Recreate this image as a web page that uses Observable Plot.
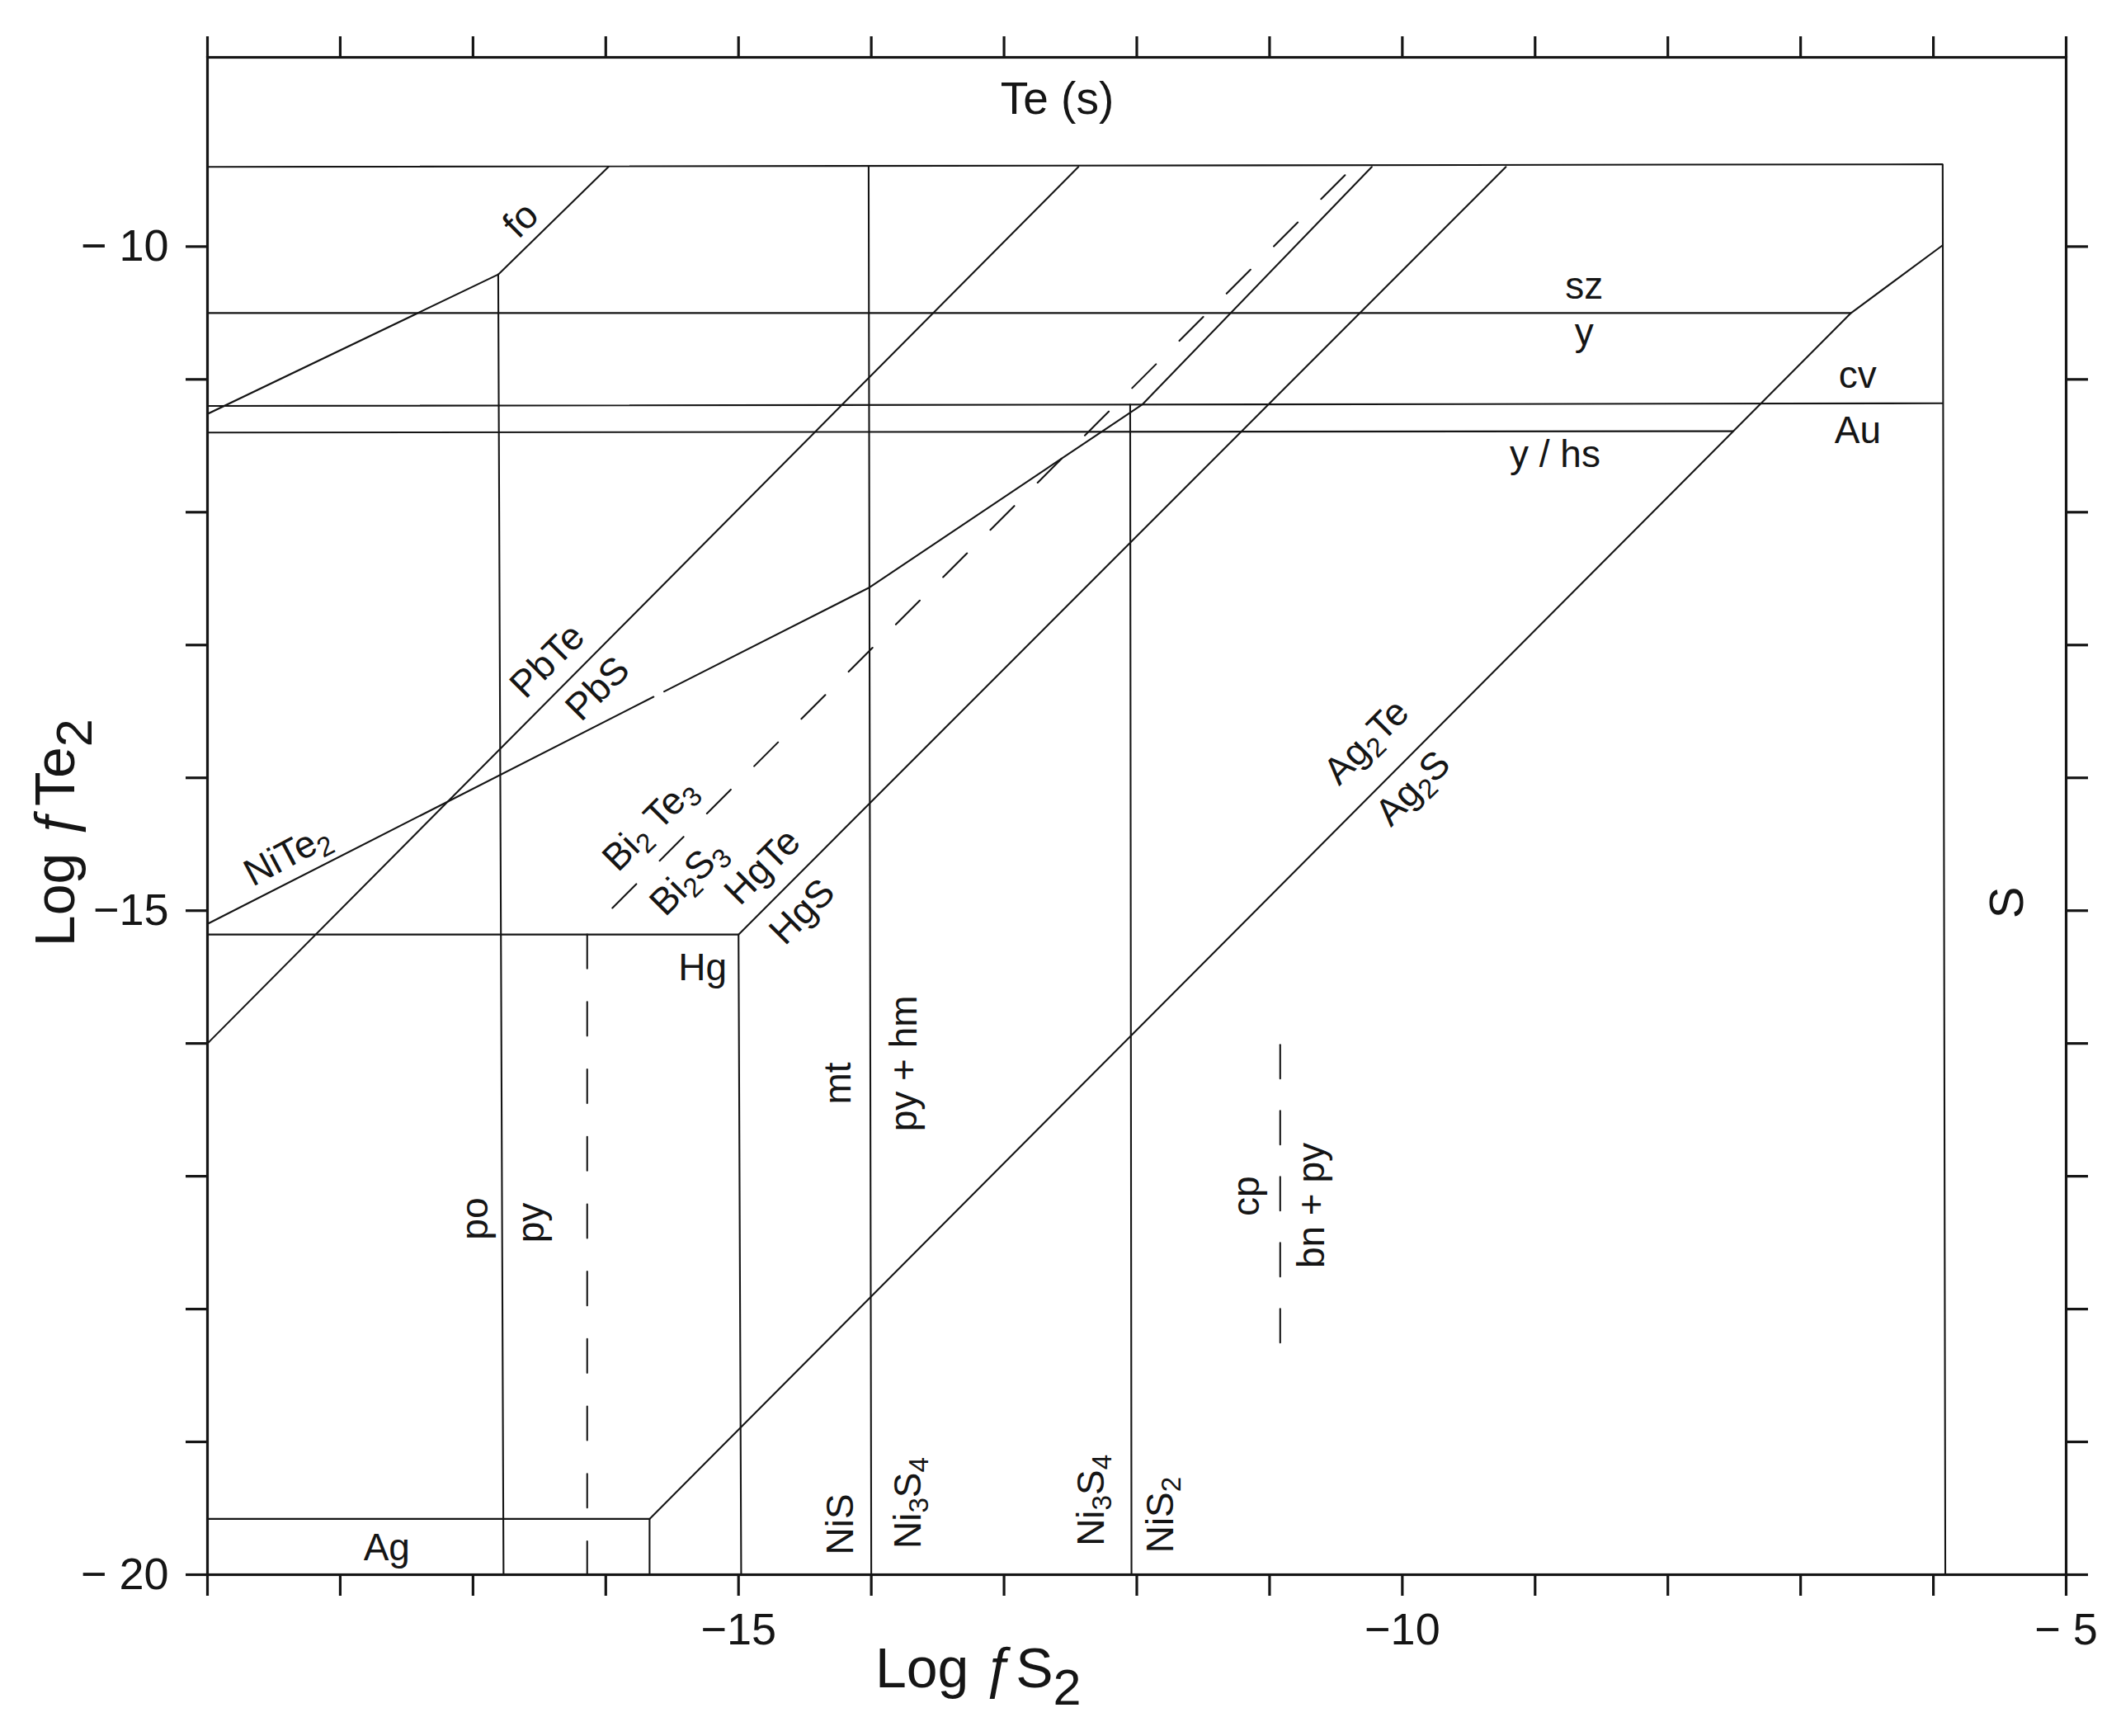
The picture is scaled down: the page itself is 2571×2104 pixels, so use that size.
<!DOCTYPE html>
<html>
<head>
<meta charset="utf-8">
<script src="https://cdn.jsdelivr.net/npm/d3@7"></script>
<script src="https://cdn.jsdelivr.net/npm/@observablehq/plot@0.6"></script>
<style>
  html, body { margin: 0; padding: 0; background: #fff; overflow: hidden; }
  svg { display: block; }
</style>
</head>
<body>
<div id="chart"></div>
<script>
// ---------- axis ticks ----------
const xTicks = [-19, -18, -17, -16, -15, -14, -13, -12, -11, -10, -9, -8, -7, -6, -5];
const xLabeledTicks = [-15, -10, -5];
const xTickText = ["\u221215", "\u221210", "\u2212 5"];
const yTicks = [-20, -19, -18, -17, -16, -15, -14, -13, -12, -11, -10];
const yLabeledTicks = [-20, -15, -10];
const yTickText = ["\u2212 20", "\u221215", "\u2212 10"];

// ---------- phase boundaries (log fS2, log fTe2) ----------
const teSBoundary    = [[-19, -9.40], [-5.93, -9.38], [-5.91, -20]];
const foBoundary     = [[-19, -11.26], [-16.81, -10.21], [-15.98, -9.40]];
const poPyBoundary   = [[-16.81, -10.21], [-16.77, -20]];
const szYBoundary    = [[-19, -10.50], [-6.62, -10.50]];
const cvAuBoundary   = [[-19, -11.20], [-5.93, -11.18]];
const yHsBoundary    = [[-19, -11.40], [-7.51, -11.39]];
const ag2Boundary    = [[-15.67, -19.58], [-6.62, -10.50], [-5.93, -9.99]];
const agBoundary     = [[-19, -19.58], [-15.67, -19.58], [-15.67, -20]];
const mtBoundary     = [[-14.02, -9.40], [-14.0, -20]];
const ni3s4Boundary  = [[-12.05, -11.19], [-12.04, -20]];
const pbBoundary     = [[-19, -16.0], [-12.44, -9.40]];
const niTe2BoundaryA = [[-19, -15.10], [-15.64, -13.39]];
const niTe2BoundaryB = [[-15.56, -13.35], [-14.02, -12.57], [-11.96, -11.19], [-10.23, -9.40]];
const hgBoundary     = [[-19, -15.18], [-15.0, -15.18], [-14.98, -20]];
const hgsBoundary    = [[-15.0, -15.18], [-9.22, -9.40]];
// dashed boundaries
const biBoundary     = [[-15.95, -14.98], [-10.38, -9.41]];
const dashedPyLine   = [[-16.14, -15.18], [-16.14, -20]];
const cpBnBoundary   = [[-10.92, -16.01], [-10.92, -18.26]];

// ---------- field labels (data coordinates) ----------
const titleLabels = [{t: "Te (s)", x: -12.60, y: -8.89}];
const horizontalLabels = [
  {t: "sz", x: -8.63, y: -10.30},
  {t: "y", x: -8.63, y: -10.65},
  {t: "cv", x: -6.57, y: -10.97},
  {t: "Au", x: -6.57, y: -11.39},
  {t: "y / hs", x: -8.85, y: -11.57},
  {t: "Hg", x: -15.27, y: -15.43},
  {t: "Ag", x: -17.65, y: -19.80}
];
const diagonalLabels = [
  {t: "fo", x: -16.64, y: -9.80},
  {t: "PbTe", x: -16.44, y: -13.12},
  {t: "PbS", x: -16.06, y: -13.33},
  {t: "Bi_2 Te_3", x: -15.67, y: -14.35},
  {t: "Bi_2S_3", x: -15.38, y: -14.75},
  {t: "HgTe", x: -14.82, y: -14.67},
  {t: "HgS", x: -14.52, y: -15.01},
  {t: "Ag_2Te", x: -10.27, y: -13.73},
  {t: "Ag_2S", x: -9.92, y: -14.08}
];
const niTe2Labels = [{t: "NiTe_2", x: -18.40, y: -14.58}];
const verticalLabels = [
  {t: "mt", x: -14.25, y: -16.30},
  {t: "py + hm", x: -13.75, y: -16.15},
  {t: "po", x: -16.98, y: -17.32},
  {t: "py", x: -16.56, y: -17.35},
  {t: "NiS", x: -14.23, y: -19.62},
  {t: "Ni_3S_4", x: -13.72, y: -19.46},
  {t: "Ni_3S_4", x: -12.34, y: -19.44},
  {t: "NiS_2", x: -11.82, y: -19.55},
  {t: "cp", x: -11.17, y: -17.15},
  {t: "bn + py", x: -10.68, y: -17.22}
];
const sLabels = [{t: "S", x: -5.44, y: -14.94}];
const xTitle = [{t: "Log \u0192S~2", x: -13.97}];
const yTitle = [{t: "Log \u0192Te~2", y: -15.27}];

// ---------- build tables ----------
const solidSets = {teSBoundary, foBoundary, poPyBoundary, szYBoundary, cvAuBoundary, yHsBoundary,
  ag2Boundary, agBoundary, mtBoundary, ni3s4Boundary, pbBoundary, niTe2BoundaryA, niTe2BoundaryB,
  hgBoundary, hgsBoundary};
const toRows = (sets) => Object.entries(sets).flatMap(([id, pts]) => pts.map(([x, y]) => ({id, x, y})));
const solidRows = toRows(solidSets);
const biRows = toRows({biBoundary});
const pyRows = toRows({dashedPyLine});
const cpRows = toRows({cpBnBoundary});

const xFmt = d => { const i = xLabeledTicks.indexOf(d); return i >= 0 ? xTickText[i] : ""; };
const yFmt = d => { const i = yLabeledTicks.indexOf(d); return i >= 0 ? yTickText[i] : ""; };

const INK = "#151515";
const LW = 2.1;
const labelOpts = {x: "x", y: "y", text: "t", fontSize: 46, textAnchor: "middle", lineAnchor: "middle", fill: INK};

const chart = Plot.plot({
  width: 2571,
  height: 2104,
  marginLeft: 251,
  marginRight: 67,
  marginTop: 69,
  marginBottom: 196,
  x: {domain: [-19, -5]},
  y: {domain: [-20, -8.575]},
  style: {fontFamily: "'Liberation Sans', Arial, Helvetica, sans-serif", fontSize: "54px", color: INK, background: "#fff"},
  marks: [
    Plot.line(solidRows, {x: "x", y: "y", z: "id", stroke: INK, strokeWidth: LW, strokeLinejoin: "miter"}),
    Plot.line(biRows, {x: "x", y: "y", z: "id", stroke: INK, strokeWidth: LW, strokeDasharray: "41,40"}),
    Plot.line(pyRows, {x: "x", y: "y", z: "id", stroke: INK, strokeWidth: LW, strokeDasharray: "41,40.7"}),
    Plot.line(cpRows, {x: "x", y: "y", z: "id", stroke: INK, strokeWidth: LW, strokeDasharray: "41,39"}),
    Plot.text(titleLabels, {...labelOpts, fontSize: 55}),
    Plot.text(horizontalLabels, labelOpts),
    Plot.text(diagonalLabels, {...labelOpts, rotate: -45}),
    Plot.text(niTe2Labels, {...labelOpts, rotate: -28}),
    Plot.text(verticalLabels, {...labelOpts, rotate: -90}),
    Plot.text(sLabels, {...labelOpts, fontSize: 58, rotate: -90}),
    Plot.text(xTitle, {x: "x", frameAnchor: "bottom", dy: 136, text: "t", fontSize: 68, textAnchor: "start", lineAnchor: "bottom", fill: INK}),
    Plot.text(yTitle, {y: "y", frameAnchor: "left", dx: -162, text: "t", fontSize: 68, rotate: -90, textAnchor: "start", lineAnchor: "bottom", fill: INK}),
    Plot.frame({stroke: INK, strokeWidth: 3.2}),
    Plot.axisX(xTicks, {anchor: "bottom", tickSize: 26, tickPadding: 20, strokeWidth: 3.2, stroke: INK, tickFormat: xFmt, label: null, fontSize: 54}),
    Plot.axisX(xTicks, {anchor: "top", tickSize: 26, strokeWidth: 3.2, stroke: INK, tickFormat: () => "", label: null}),
    Plot.axisY(yTicks, {anchor: "left", tickSize: 26, tickPadding: 21, strokeWidth: 3.2, stroke: INK, tickFormat: yFmt, label: null, fontSize: 54}),
    Plot.axisY(yTicks, {anchor: "right", tickSize: 26, strokeWidth: 3.2, stroke: INK, tickFormat: () => "", label: null})
  ]
});

// subscripts: "_d" small subscript, "~d" large subscript
function applySubscripts(svg) {
  const NS = "http://www.w3.org/2000/svg";
  for (const t of svg.querySelectorAll("text")) {
    const s = t.textContent;
    if (!/[_~]\d/.test(s)) continue;
    t.textContent = "";
    let shifted = 0, last = 0, m;
    const add = (str, frac, shift) => {
      const ts = document.createElementNS(NS, "tspan");
      ts.textContent = str;
      if (frac !== 1) ts.setAttribute("font-size", (frac * 100) + "%");
      const delta = shift - shifted;
      if (delta) ts.setAttribute("dy", (delta / frac).toFixed(3) + "em");
      shifted = shift;
      t.appendChild(ts);
    };
    const re = /([_~])(\d)/g;
    while ((m = re.exec(s))) {
      if (m.index > last) add(s.slice(last, m.index), 1, 0);
      if (m[1] === "_") add(m[2], 0.72, 0.2); else add(m[2], 0.9, 0.32);
      last = re.lastIndex;
    }
    if (last < s.length) add(s.slice(last), 1, 0);
  }
}
applySubscripts(chart);
document.getElementById("chart").appendChild(chart);
</script>
</body>
</html>
